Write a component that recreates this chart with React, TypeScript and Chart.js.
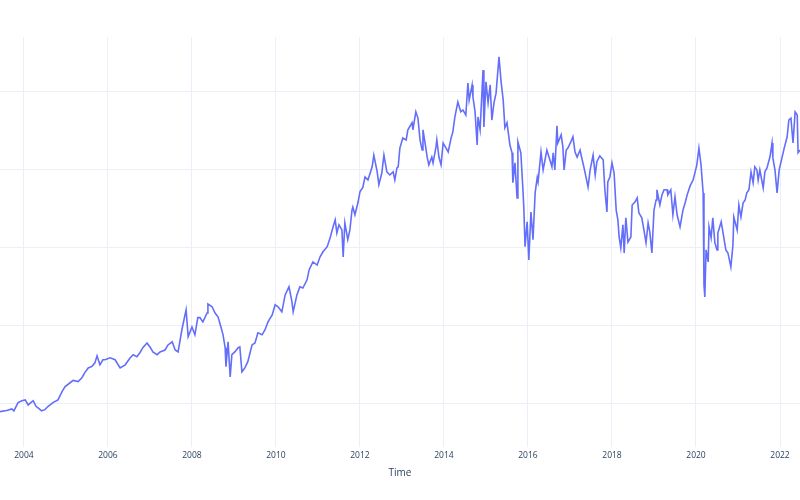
import React, { useEffect, useRef } from "react";
import { Chart, registerables } from "chart.js";

Chart.register(...registerables);

// Decimal-year dates of the sampled observations
const dates: number[] = [
  2003.43, 2003.59, 2003.71, 2003.76, 2003.86, 2003.95, 2004.03, 2004.10, 2004.22, 2004.29,
  2004.33, 2004.42, 2004.50, 2004.57, 2004.69, 2004.81, 2004.91, 2004.98, 2005.10, 2005.17,
  2005.29, 2005.38, 2005.45, 2005.53, 2005.62, 2005.69, 2005.74, 2005.81, 2005.88, 2005.93,
  2006.05, 2006.17, 2006.29, 2006.41, 2006.53, 2006.60, 2006.69, 2006.76, 2006.83, 2006.93,
  2007.00, 2007.07, 2007.17, 2007.24, 2007.36, 2007.43, 2007.53, 2007.60, 2007.67, 2007.76,
  2007.86, 2007.91, 2008.00, 2008.07, 2008.14, 2008.19, 2008.26, 2008.36, 2008.38, 2008.48,
  2008.55, 2008.62, 2008.69, 2008.74, 2008.79, 2008.81, 2008.86, 2008.91, 2008.95, 2009.02,
  2009.10, 2009.14, 2009.19, 2009.26, 2009.33, 2009.43, 2009.50, 2009.57, 2009.67, 2009.74,
  2009.81, 2009.91, 2009.98, 2010.05, 2010.14, 2010.22, 2010.31, 2010.38, 2010.41, 2010.50,
  2010.57, 2010.64, 2010.74, 2010.79, 2010.88, 2010.98, 2011.05, 2011.12, 2011.22, 2011.29,
  2011.36, 2011.41, 2011.45, 2011.50, 2011.57, 2011.60, 2011.64, 2011.71, 2011.76, 2011.81,
  2011.83, 2011.88, 2011.95, 2012.00, 2012.07, 2012.12, 2012.19, 2012.29, 2012.33, 2012.41,
  2012.45, 2012.52, 2012.57, 2012.64, 2012.71, 2012.79, 2012.83, 2012.88, 2012.91, 2012.95,
  2013.02, 2013.10, 2013.14, 2013.24, 2013.26, 2013.33, 2013.38, 2013.43, 2013.48, 2013.50,
  2013.55, 2013.60, 2013.64, 2013.71, 2013.74, 2013.81, 2013.83, 2013.88, 2013.93, 2013.98,
  2014.05, 2014.10, 2014.17, 2014.21, 2014.26, 2014.33, 2014.40, 2014.45, 2014.52, 2014.57,
  2014.60, 2014.67, 2014.69, 2014.74, 2014.79, 2014.81, 2014.86, 2014.93, 2014.95, 2015.00,
  2015.05, 2015.10, 2015.14, 2015.19, 2015.24, 2015.31, 2015.36, 2015.41, 2015.45, 2015.50,
  2015.57, 2015.62, 2015.64, 2015.69, 2015.74, 2015.76, 2015.83, 2015.88, 2015.90, 2015.93,
  2015.98, 2016.02, 2016.07, 2016.12, 2016.17, 2016.22, 2016.24, 2016.31, 2016.36, 2016.45,
  2016.52, 2016.57, 2016.60, 2016.64, 2016.69, 2016.71, 2016.79, 2016.83, 2016.86, 2016.91,
  2016.95, 2017.02, 2017.07, 2017.12, 2017.17, 2017.24, 2017.29, 2017.33, 2017.38, 2017.43,
  2017.48, 2017.55, 2017.60, 2017.64, 2017.71, 2017.79, 2017.83, 2017.88, 2017.90, 2017.95,
  2018.00, 2018.05, 2018.10, 2018.14, 2018.17, 2018.21, 2018.26, 2018.29, 2018.33, 2018.38,
  2018.45, 2018.48, 2018.55, 2018.60, 2018.64, 2018.71, 2018.76, 2018.81, 2018.86, 2018.90,
  2018.95, 2019.00, 2019.05, 2019.07, 2019.14, 2019.19, 2019.24, 2019.31, 2019.33, 2019.40,
  2019.45, 2019.50, 2019.55, 2019.62, 2019.69, 2019.74, 2019.79, 2019.86, 2019.93, 2019.98,
  2020.02, 2020.07, 2020.12, 2020.17, 2020.19, 2020.21, 2020.24, 2020.29, 2020.31, 2020.36,
  2020.40, 2020.45, 2020.50, 2020.52, 2020.60, 2020.64, 2020.71, 2020.76, 2020.83, 2020.88,
  2020.90, 2020.98, 2021.02, 2021.07, 2021.12, 2021.17, 2021.21, 2021.26, 2021.31, 2021.36,
  2021.40, 2021.45, 2021.48, 2021.52, 2021.60, 2021.64, 2021.69, 2021.76, 2021.81, 2021.83,
  2021.88, 2021.93, 2021.98, 2022.05, 2022.10, 2022.17, 2022.21, 2022.26, 2022.31, 2022.36,
  2022.41, 2022.43, 2022.48,
];

// Observed values (price level)
const values: number[] = [
  18.0, 18.3, 18.7, 18.2, 20.3, 20.8, 21.0, 19.7, 20.8, 19.3,
  19.0, 18.2, 18.5, 19.3, 20.3, 21.0, 23.2, 24.4, 25.4, 26.0,
  25.7, 26.7, 28.0, 29.2, 29.6, 30.5, 32.3, 30.0, 31.3, 31.3,
  31.8, 31.3, 29.2, 30.0, 31.8, 32.6, 32.1, 33.1, 34.4, 35.6,
  34.6, 33.3, 32.6, 33.3, 33.8, 35.1, 35.9, 33.8, 33.3, 39.0,
  44.1, 37.2, 39.7, 37.7, 42.1, 42.1, 41.0, 43.3, 45.6, 44.9,
  43.3, 42.3, 39.7, 37.7, 34.4, 29.5, 35.9, 26.9, 32.6, 33.3,
  34.4, 34.6, 28.2, 29.2, 30.8, 35.1, 35.6, 38.2, 37.7, 39.0,
  41.0, 42.8, 45.4, 44.9, 43.6, 48.0, 50.0, 46.2, 43.6, 48.0,
  50.0, 49.7, 51.8, 54.4, 56.4, 55.6, 57.7, 59.0, 60.3, 62.6,
  65.4, 67.2, 63.8, 65.9, 64.6, 57.7, 66.4, 62.1, 64.6, 69.7,
  70.5, 68.5, 71.5, 74.4, 75.6, 78.2, 77.4, 80.8, 83.8, 79.5,
  76.2, 79.2, 83.8, 79.5, 78.7, 79.5, 77.4, 80.5, 80.8, 85.6,
  88.2, 87.7, 90.3, 92.1, 90.3, 94.9, 93.3, 87.7, 85.1, 90.3,
  86.9, 83.3, 81.3, 83.3, 81.8, 85.9, 87.7, 83.3, 81.3, 86.9,
  85.6, 84.6, 88.2, 89.7, 93.6, 97.4, 94.9, 95.4, 94.1, 102.3,
  97.9, 101.8, 98.7, 94.9, 86.4, 93.6, 90.3, 105.6, 91.0, 102.6,
  97.2, 101.8, 92.8, 97.2, 99.7, 109.0, 102.6, 97.9, 90.8, 92.1,
  86.4, 84.4, 76.7, 81.8, 72.8, 87.2, 84.4, 74.9, 70.5, 60.3,
  66.7, 56.9, 69.2, 62.1, 74.1, 78.0, 76.9, 84.6, 80.0, 85.1,
  82.6, 80.8, 84.4, 80.0, 91.3, 86.9, 89.0, 85.9, 80.0, 85.1,
  85.6, 87.2, 88.5, 84.6, 83.3, 85.1, 82.6, 80.8, 78.2, 75.6,
  80.0, 83.8, 78.7, 82.1, 83.6, 82.6, 74.9, 69.2, 76.9, 78.2,
  81.8, 79.2, 69.7, 67.2, 62.8, 60.0, 65.9, 58.7, 67.7, 61.5,
  62.8, 71.0, 71.8, 72.8, 69.0, 67.7, 64.6, 61.3, 66.4, 64.1,
  58.7, 69.7, 72.3, 74.9, 71.0, 73.6, 74.9, 74.9, 73.6, 74.9,
  68.5, 73.1, 68.5, 65.4, 69.7, 71.5, 73.6, 75.9, 77.4, 79.5,
  81.3, 85.6, 81.3, 74.1, 50.5, 47.4, 59.5, 56.4, 65.4, 62.6,
  67.7, 61.3, 59.5, 63.8, 66.7, 64.1, 59.5, 58.7, 55.1, 60.8,
  67.9, 64.6, 71.0, 67.9, 71.5, 72.3, 74.1, 74.9, 79.5, 76.7,
  80.8, 80.0, 77.4, 80.0, 75.4, 79.5, 80.5, 83.3, 86.9, 83.1,
  80.0, 74.1, 80.0, 83.3, 85.6, 88.5, 92.8, 93.3, 86.9, 94.9,
  94.1, 84.4, 85.1,
];

const xTickYears: number[] = [2004, 2006, 2008, 2010, 2012, 2014, 2016, 2018, 2020, 2022];
const yGridValues: number[] = [20, 40, 60, 80, 100];

export default function App() {
  const canvasRef = useRef<HTMLCanvasElement | null>(null);

  useEffect(() => {
    const canvas = canvasRef.current;
    if (!canvas) return;
    const points = dates.map((d, i) => ({ x: d, y: values[i] }));
    const font = "'Open Sans', 'DejaVu Sans', sans-serif";
    const chart = new Chart(canvas, {
      type: "line",
      data: {
        datasets: [
          {
            data: points,
            borderColor: "#636efa",
            borderWidth: 1.6,
            pointRadius: 0,
            tension: 0,
            fill: false,
          },
        ],
      },
      options: {
        animation: false,
        responsive: false,
        maintainAspectRatio: false,
        layout: { padding: { top: 37, left: 0, right: 0, bottom: 21 } },
        plugins: { legend: { display: false }, tooltip: { enabled: false } },
        scales: {
          x: {
            type: "linear",
            min: 2003.43,
            max: 2022.476,
            afterBuildTicks: (scale: any) => {
              scale.ticks = xTickYears.map((v) => ({ value: v }));
            },
            grid: { color: "#ebf0f8", lineWidth: 1, drawTicks: false },
            border: { display: false },
            ticks: {
              color: "#2a3f5f",
              font: { family: font, size: 8.5 },
              padding: 4,
              maxRotation: 0,
              autoSkip: false,
              callback: (v: any) => String(v),
            },
            title: {
              display: true,
              text: "Time",
              color: "#2a3f5f",
              font: { family: font, size: 10 },
              padding: { top: 2, bottom: 0 },
            },
          },
          y: {
            type: "linear",
            min: 8.97,
            max: 114.1,
            afterBuildTicks: (scale: any) => {
              scale.ticks = yGridValues.map((v) => ({ value: v }));
            },
            grid: { color: "#ebf0f8", lineWidth: 1, drawTicks: false, tickLength: 0 },
            border: { display: false },
            ticks: { display: false },
          },
        },
      },
    });
    return () => chart.destroy();
  }, []);

  return (
    <div style={{ position: "fixed", left: 0, top: 0, width: 800, height: 500, background: "#fff" }}>
      <canvas ref={canvasRef} width={800} height={500} style={{ width: 800, height: 500 }} />
    </div>
  );
}
